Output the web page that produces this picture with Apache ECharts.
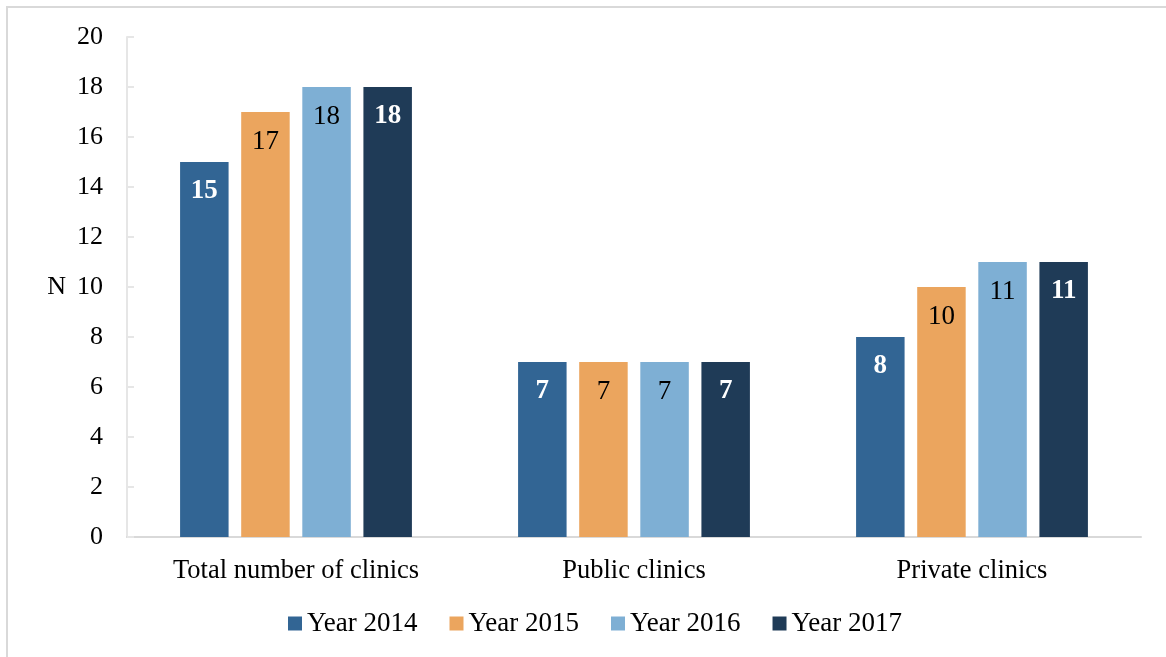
<!DOCTYPE html>
<html>
<head>
<meta charset="utf-8">
<script src="https://cdn.jsdelivr.net/npm/echarts@6/dist/echarts.min.js"></script>
<style>
  html, body { margin: 0; padding: 0; background: #fff; }
  #chart { width: 1166px; height: 657px; }
</style>
</head>
<body>
<div id="chart"></div>
<script>
// Number of clinics by type, 2014–2017
const categories = ['Total number of clinics', 'Public clinics', 'Private clinics'];
const seriesNames = ['Year 2014', 'Year 2015', 'Year 2016', 'Year 2017'];
const year2014 = [15, 7, 8];
const year2015 = [17, 7, 10];
const year2016 = [18, 7, 11];
const year2017 = [18, 7, 11];
const yTicks = [0, 2, 4, 6, 8, 10, 12, 14, 16, 18, 20];

const colors = ['#326594', '#EBA55E', '#7EAFD4', '#1F3B57'];
const labelColors = ['#ffffff', '#000000', '#000000', '#ffffff'];
const labelWeights = ['bold', 'normal', 'normal', 'bold'];
const values = [year2014, year2015, year2016, year2017];

const FONT = '"Liberation Serif", "Times New Roman", serif';

const chart = echarts.init(document.getElementById('chart'), null, { renderer: 'canvas' });

chart.setOption({
  animation: false,
  backgroundColor: '#ffffff',
  textStyle: { fontFamily: FONT },
  graphic: [{
    type: 'rect',
    shape: { x: 7, y: 7, width: 1180, height: 680 },
    style: { fill: 'none', stroke: '#d9d9d9', lineWidth: 2 },
    silent: true
  }],
  grid: { left: 127, right: 25, top: 37, bottom: 120, containLabel: false },
  legend: {
    data: seriesNames,
    left: 283,
    top: 605,
    itemWidth: 14,
    itemHeight: 14,
    itemGap: 32,
    icon: 'rect',
    textStyle: { fontFamily: FONT, fontSize: 27, color: '#000', padding: [0, 0, 0, 0] }
  },
  xAxis: {
    type: 'category',
    data: categories,
    axisLine: { show: true, lineStyle: { color: '#d9d9d9', width: 2 } },
    axisTick: { show: false },
    axisLabel: { fontFamily: FONT, fontSize: 26.5, color: '#000', margin: 21 },
    splitLine: { show: false }
  },
  yAxis: {
    type: 'value',
    min: yTicks[0],
    max: yTicks[yTicks.length - 1],
    interval: 2,
    name: 'N',
    nameLocation: 'middle',
    nameRotate: 0,
    nameGap: 61,
    nameTextStyle: { fontFamily: FONT, fontSize: 26, color: '#000' },
    axisLine: { show: true, lineStyle: { color: '#e6e6e6', width: 2 } },
    axisTick: { show: true, inside: true, length: 7, lineStyle: { color: '#e6e6e6', width: 2 } },
    axisLabel: { fontFamily: FONT, fontSize: 26, color: '#000', margin: 24 },
    splitLine: { show: false }
  },
  series: seriesNames.map((name, i) => ({
    name: name,
    type: 'bar',
    data: values[i],
    barWidth: 48.5,
    barGap: '26%',
    itemStyle: { color: colors[i] },
    label: {
      show: true,
      position: 'insideTop',
      distance: 16,
      fontFamily: FONT,
      fontSize: 27,
      fontWeight: labelWeights[i],
      color: labelColors[i]
    }
  }))
});
</script>
</body>
</html>
